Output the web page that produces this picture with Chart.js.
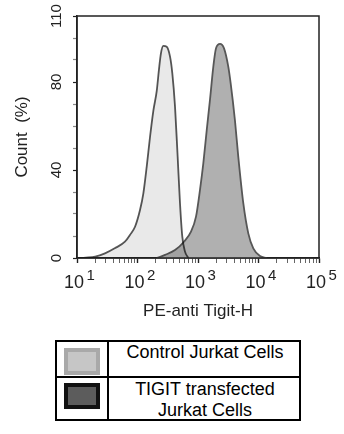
<!DOCTYPE html>
<html><head><meta charset="utf-8">
<script src="https://cdn.jsdelivr.net/npm/chart.js@4/dist/chart.umd.min.js"></script>
<style>
html,body{margin:0;padding:0;background:#fff;width:344px;height:434px;overflow:hidden;font-family:"Liberation Sans",Arial,sans-serif;}
#wrap{position:absolute;left:0;top:0;width:344px;height:330px;}
.abs{position:absolute;box-sizing:border-box;}
.ltxt{position:absolute;left:109px;width:192px;text-align:center;font-size:18px;color:#000;}
</style></head><body>
<div id="wrap"><canvas id="c" width="344" height="330"></canvas></div>
<div class="abs" style="left:55px;top:340px;width:246px;height:81px;border:2px solid #000;"></div>
<div class="abs" style="left:55px;top:376px;width:246px;height:2px;background:#000;"></div>
<div class="abs" style="left:107px;top:340px;width:2px;height:81px;background:#000;"></div>
<div class="abs" id="sw0" style="left:64px;top:348px;width:36px;height:27px;border:4px solid #a9a9a9;background:#c6c6c6;"></div>
<div class="abs" id="sw1" style="left:64px;top:383px;width:36px;height:26px;border:4px solid #111;background:#5c5c5c;"></div>
<div class="ltxt" id="lt0" style="top:342px;line-height:20px;"></div>
<div class="ltxt" id="lt1" style="top:379px;line-height:21px;"></div>
<script>
// ---- data ----
const seriesNames = ['Control Jurkat Cells', 'TIGIT transfected\nJurkat Cells'];
const controlX = [10, 14, 20, 29, 42, 62, 75, 91, 110, 125, 142, 161, 183, 208, 226, 244, 267, 304, 345, 376, 417, 461, 504, 550, 610, 692];
const controlY = [0, 0.2, 0.6, 2.1, 4.4, 7.4, 10.5, 14.2, 21.8, 29.4, 41.5, 55, 67, 76, 85.5, 93, 96.4, 96, 91.5, 84, 68.8, 46, 24.9, 9.7, 2.9, 0];
const tigitX = [208, 285, 417, 587, 766, 927, 1079, 1224, 1393, 1579, 1792, 1986, 2311, 2692, 3166, 3467, 4076, 4634, 5606, 6780, 8202, 10590, 13670];
const tigitY = [0, 1.4, 3.6, 7.4, 12, 18.8, 31, 43, 58, 72, 87, 95.3, 97.3, 95.3, 87, 79.4, 62.7, 46, 24.9, 11.2, 4.4, 0.9, 0];
const xDecades = [10, 100, 1000, 10000, 100000];
const xExponents = ['1', '2', '3', '4', '5'];
const yTickValues = [0, 10, 20, 30, 40, 50, 60, 70, 80, 90, 100, 110];
const yTickLabels = ['0', '', '', '', '40', '', '', '', '80', '', '', '110'];
const xTitle = 'PE-anti Tigit-H';
const yTitle = 'Count  (%)';

document.getElementById('lt0').textContent = seriesNames[0];
document.getElementById('lt1').innerHTML = seriesNames[1].split('\n').join('<br>');

const FONT = '"Liberation Sans", Arial, sans-serif';
const xMinorTicks = [];
xDecades.forEach((d, i) => {
  if (i === xDecades.length - 1) { xMinorTicks.push(d); return; }
  for (let m = 1; m <= 9; m++) xMinorTicks.push(d * m);
});

const pts = (xs, ys) => xs.map((x, i) => ({x: x, y: ys[i]}));

const boxPlugin = {
  id: 'boxAndLabels',
  afterDatasetDraw(chart, args) {
    if (args.index === 1) {
      chart.ctx.save();
      chart.ctx.globalCompositeOperation = 'multiply';
    }
  },
  afterDatasetsDraw(chart) {
    chart.ctx.restore();
  },
  afterDraw(chart) {
    const {ctx, chartArea: a} = chart;
    ctx.save();
    ctx.strokeStyle = '#222';
    ctx.lineWidth = 1.5;
    ctx.strokeRect(a.left, a.top, a.right - a.left, a.bottom - a.top);
    const xs = chart.scales.x;
    ctx.fillStyle = '#222';
    ctx.textBaseline = 'alphabetic';
    xDecades.forEach((v, i) => {
      const px = xs.getPixelForValue(v);
      ctx.font = '18px ' + FONT;
      ctx.textAlign = 'right';
      ctx.fillText('10', px + 7, 288);
      ctx.font = '15px ' + FONT;
      ctx.textAlign = 'left';
      ctx.fillText(xExponents[i], px + 9.5, 280);
    });
    ctx.restore();
  }
};

new Chart(document.getElementById('c'), {
  type: 'line',
  data: {
    datasets: [
      {
        label: seriesNames[0],
        data: pts(controlX, controlY),
        borderColor: '#575757',
        backgroundColor: '#e9e9e9',
        borderWidth: 1.8,
        fill: 'origin',
        pointRadius: 0,
        cubicInterpolationMode: 'monotone'
      },
      {
        label: seriesNames[1],
        data: pts(tigitX, tigitY),
        borderColor: '#575757',
        backgroundColor: '#b0b0b0',
        borderWidth: 1.8,
        fill: 'origin',
        pointRadius: 0,
        cubicInterpolationMode: 'monotone'
      }
    ]
  },
  options: {
    responsive: false,
    animation: false,
    devicePixelRatio: 1,
    layout: {padding: {left: 0, right: 25, top: 16, bottom: 0}},
    plugins: {legend: {display: false}, tooltip: {enabled: false}},
    scales: {
      x: {
        type: 'logarithmic',
        min: 10,
        max: 100000,
        afterBuildTicks: s => { s.ticks = xMinorTicks.map(v => ({value: v, major: xDecades.includes(v)})); },
        afterFit: s => { s.height = 72; },
        ticks: {callback: () => '', autoSkip: false, maxRotation: 0, font: {size: 1}},
        grid: {
          drawOnChartArea: false, drawTicks: true, tickLength: 5,
          tickColor: c => (c.tick && xDecades.includes(c.tick.value)) ? '#222' : '#666',
          tickWidth: c => (c.tick && xDecades.includes(c.tick.value)) ? 1.4 : 1
        },
        border: {display: true, color: '#222', width: 1.5},
        title: {display: true, text: xTitle, color: '#222', font: {family: FONT, size: 17}, padding: {top: 0, bottom: 8}}
      },
      y: {
        min: 0,
        max: 110,
        afterBuildTicks: s => { s.ticks = yTickValues.map(v => ({value: v})); },
        afterFit: s => { s.width = 77; },
        ticks: {
          callback: (v, i) => yTickLabels[i],
          autoSkip: false, minRotation: 90, maxRotation: 90, crossAlign: 'center', padding: 4,
          color: '#222', font: {family: FONT, size: 15}
        },
        grid: {
          drawOnChartArea: false, drawTicks: true, tickLength: 4,
          tickColor: c => (c.tick && [0, 40, 80, 110].includes(c.tick.value)) ? '#222' : '#888',
          tickWidth: 1.2
        },
        border: {display: true, color: '#222', width: 1.5},
        title: {display: true, text: yTitle, color: '#222', font: {family: FONT, size: 17}, padding: {top: 12, bottom: 0}}
      }
    }
  },
  plugins: [boxPlugin]
});
</script>
</body></html>
